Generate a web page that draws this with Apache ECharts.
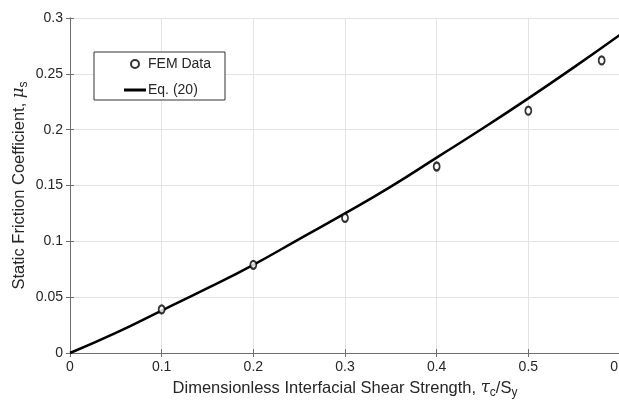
<!DOCTYPE html>
<html>
<head>
<meta charset="utf-8">
<script src="https://cdn.jsdelivr.net/npm/echarts@6/dist/echarts.min.js"></script>
<style>
  html, body { margin: 0; padding: 0; background: #fff; }
  #chart { width: 619px; height: 402px; }
</style>
</head>
<body>
<div id="chart"></div>
<script>
// FEM results
const femX = [0.1, 0.2, 0.3, 0.4, 0.5, 0.58]
const femY = [0.039, 0.079, 0.121, 0.167, 0.217, 0.262]

// Eq. (20) curve
const eqX = [0, 0.05, 0.1, 0.15, 0.2, 0.25, 0.3, 0.35, 0.4, 0.45, 0.5, 0.55, 0.6]
const eqY = [0, 0.018, 0.038, 0.058, 0.079, 0.102, 0.125, 0.149, 0.175, 0.201, 0.228, 0.256, 0.285]

const chart = echarts.init(document.getElementById('chart'))

const font = 'Liberation Sans, Arial, sans-serif'
const axisColor = '#6e6e6e'
const textColor = '#262626'

const subRich = {
  n: { fontSize: 16.5, fontFamily: font, color: textColor },
  g: { fontSize: 16.5, fontFamily: 'DejaVu Serif, serif', fontStyle: 'italic', color: textColor },
  s: { fontSize: 12, fontFamily: font, color: textColor, padding: [10, 0, 0, 0] },
}

chart.setOption({
  animation: false,
  grid: { left: 70, right: -1, top: 18, bottom: 49, outerBoundsMode: 'none', containLabel: false },
  legend: {
    left: 94,
    top: 52,
    orient: 'vertical',
    backgroundColor: '#fff',
    borderColor: '#333',
    borderWidth: 1,
    borderRadius: 0,
    padding: [5, 14, 3, 30],
    itemWidth: 22,
    itemHeight: 8,
    itemGap: 12,
    textStyle: { fontSize: 14, fontFamily: font, color: textColor, padding: [0, 0, 0, -3] },
    data: [
      { name: 'FEM Data', icon: 'circle' },
      { name: 'Eq. (20)', icon: 'path://M0,0H22V3H0Z' },
    ],
  },
  xAxis: [
    {
      type: 'value',
      min: 0,
      max: 0.6,
      interval: 0.1,
      name: '{n|Dimensionless Interfacial Shear Strength, }{g|τ}{s|c}{n|/S}{s|y}',
      nameLocation: 'middle',
      nameGap: 24,
      nameMoveOverlap: false,
      nameTextStyle: { rich: subRich },
      axisLine: { lineStyle: { color: axisColor } },
      axisTick: { inside: true, length: 4, lineStyle: { color: axisColor } },
      axisLabel: { fontSize: 14, fontFamily: font, color: textColor, margin: 7 },
      splitLine: { show: true, lineStyle: { color: '#e3e3e3' } },
    },
    {
      type: 'value',
      position: 'top',
      min: 0,
      max: 0.6,
      interval: 0.1,
      axisLine: { show: true, lineStyle: { color: axisColor } },
      axisTick: { show: true, inside: true, length: 4, lineStyle: { color: axisColor } },
      axisLabel: { show: false },
      splitLine: { show: false },
    },
  ],
  yAxis: [
    {
      type: 'value',
      min: 0,
      max: 0.3,
      interval: 0.05,
      name: '{n|Static Friction Coefficient, }{g|μ}{s|s}',
      nameLocation: 'middle',
      nameGap: 40,
      nameMoveOverlap: false,
      nameTextStyle: { rich: subRich },
      axisLine: { show: true, lineStyle: { color: axisColor } },
      axisTick: { show: true, inside: true, length: 4, lineStyle: { color: axisColor } },
      axisLabel: { fontSize: 14, fontFamily: font, color: textColor, margin: 7 },
      splitLine: { show: true, lineStyle: { color: '#e3e3e3' } },
    },
    {
      type: 'value',
      position: 'right',
      min: 0,
      max: 0.3,
      interval: 0.05,
      axisLine: { show: true, lineStyle: { color: axisColor } },
      axisTick: { show: true, inside: true, length: 4, lineStyle: { color: axisColor } },
      axisLabel: { show: false },
      splitLine: { show: false },
    },
  ],
  series: [
    {
      name: 'Eq. (20)',
      type: 'line',
      data: eqX.map((x, i) => [x, eqY[i]]),
      smooth: true,
      symbol: 'none',
      lineStyle: { color: '#000', width: 2.5 },
      itemStyle: { color: '#000' },
      z: 2,
    },
    {
      name: 'FEM Data',
      type: 'scatter',
      data: femX.map((x, i) => [x, femY[i]]),
      symbol: 'circle',
      symbolSize: [6, 8],
      itemStyle: { color: '#fff', borderColor: '#000', borderWidth: 2 },
      z: 3,
    },
  ],
})
</script>
</body>
</html>
